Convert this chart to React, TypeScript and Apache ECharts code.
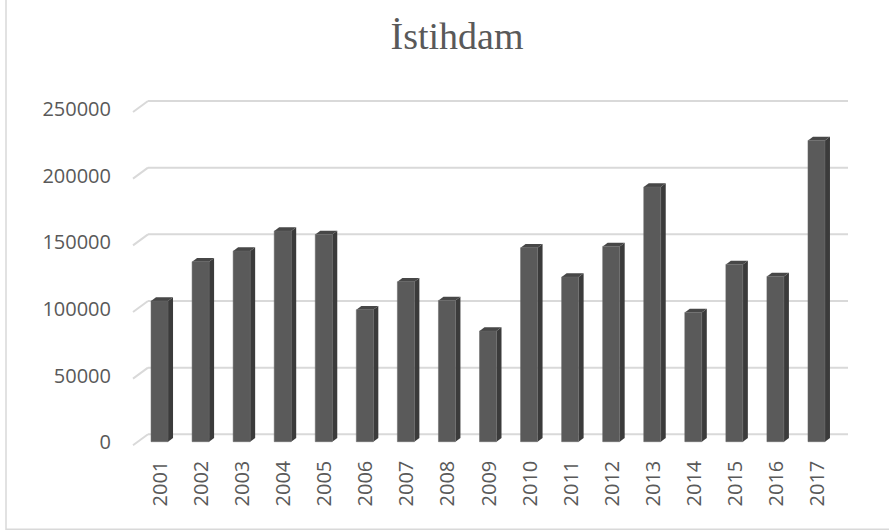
import React, { useEffect, useRef } from "react";
import * as echarts from "echarts";

const years = ["2001", "2002", "2003", "2004", "2005", "2006", "2007", "2008", "2009", "2010", "2011", "2012", "2013", "2014", "2015", "2016", "2017"];
const employment = [105500, 135000, 143000, 158000, 155500, 99000, 120000, 106000, 83000, 145500, 123500, 146500, 191000, 97000, 133000, 124000, 226000];
const yTicks = [0, 50000, 100000, 150000, 200000, 250000];
const titleText = "İstihdam";

export default function App() {
  const ref = useRef<HTMLDivElement>(null);
  useEffect(() => {
    if (!ref.current) return;
    const chart = echarts.init(ref.current, null, { renderer: "svg" });
    const DX = 9; // back wall offset from bar front plane
    const DY = 7.4;
    const option: any = {
      animation: false,
      backgroundColor: "#ffffff",
      title: {
        text: titleText,
        left: 452,
        top: 12,
        textAlign: "center",
        textStyle: { fontFamily: "Liberation Serif", fontWeight: "normal", fontSize: 38, color: "#595959" },
      },
      graphic: [
        {
          type: "rect",
          shape: { x: 6, y: -10, width: 900, height: 539.3 },
          style: { fill: "none", stroke: "#d9d9d9", lineWidth: 1.5 },
          silent: true,
        },
      ],
      grid: { left: 139, top: 108.4, width: 698, height: 333.3, containLabel: false },
      xAxis: {
        type: "category",
        data: years,
        axisLine: { show: false },
        axisTick: { show: false },
        axisLabel: {
          interval: 0,
          rotate: 90,
          margin: 19,
          fontFamily: "Open Sans",
          fontSize: 20,
          color: "#595959",
        },
      },
      yAxis: {
        type: "value",
        min: 0,
        max: 250000,
        interval: 50000,
        axisLine: { show: false },
        axisTick: { show: false },
        splitLine: { show: false },
        axisLabel: {
          margin: 28,
          fontFamily: "Open Sans",
          fontSize: 20,
          color: "#595959",
          verticalAlign: "middle",
          padding: [8, 0, 0, 0],
          formatter: (v: number) => String(v),
        },
      },
      series: [
        {
          type: "custom",
          silent: true,
          z: 1,
          data: yTicks.map((t) => [0, t]),
          encode: { x: 0, y: 1 },
          renderItem: (params: any, api: any) => {
            const cs = params.coordSys;
            const y = api.coord([0, api.value(1)])[1];
            const style = { stroke: "#d9d9d9", lineWidth: 2 };
            return {
              type: "group",
              children: [
                { type: "line", shape: { x1: cs.x + DX, y1: y - DY, x2: cs.x + cs.width + 11, y2: y - DY }, style },
                { type: "line", shape: { x1: cs.x + DX, y1: y - DY, x2: cs.x - 6, y2: y + 3.6 }, style },
              ],
            };
          },
        },
        {
          type: "custom",
          name: titleText,
          z: 2,
          data: employment.map((v, i) => [i, v]),
          encode: { x: 0, y: 1 },
          renderItem: (params: any, api: any) => {
            const i = api.value(0);
            const v = api.value(1);
            const top = api.coord([i, v]);
            const base = api.coord([i, 0]);
            const bw = 17;
            const d = 5;
            const dh = 3.7;
            const xl = top[0] - bw / 2;
            const xr = xl + bw;
            return {
              type: "group",
              children: [
                {
                  type: "polygon",
                  shape: { points: [[xr, top[1]], [xr + d, top[1] - dh], [xr + d, base[1] - dh], [xr, base[1]]] },
                  style: { fill: "#3b3b3b" },
                },
                {
                  type: "polygon",
                  shape: { points: [[xl, top[1]], [xl + d, top[1] - dh], [xr + d, top[1] - dh], [xr, top[1]]] },
                  style: { fill: "#474747" },
                },
                {
                  type: "rect",
                  shape: { x: xl, y: top[1], width: bw, height: base[1] - top[1] },
                  style: { fill: "#5a5a5a", stroke: "#666666", lineWidth: 0.5 },
                },
              ],
            };
          },
        },
      ],
    };
    chart.setOption(option);
    return () => chart.dispose();
  }, []);
  return (
    <div
      ref={ref}
      style={{ position: "absolute", left: 0, top: 0, width: 889, height: 532, background: "#ffffff" }}
    />
  );
}
